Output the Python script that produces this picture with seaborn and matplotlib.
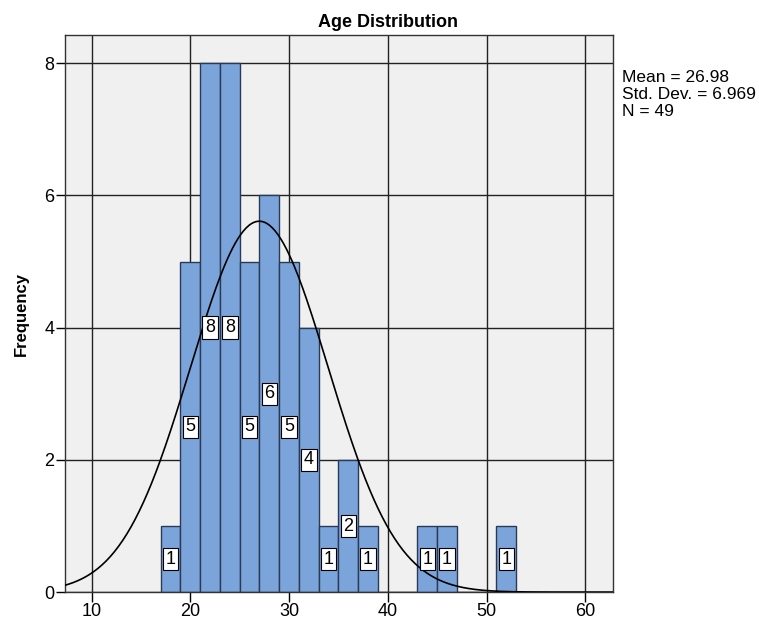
import matplotlib
matplotlib.use("Agg")
import matplotlib.pyplot as plt
import numpy as np
import pandas as pd
import seaborn as sns

# ---------------------------------------------------------------------------
# Data
# ---------------------------------------------------------------------------

bin_centers = [18, 20, 22, 24, 26, 28, 30, 32, 34, 36, 38, 44, 46, 52]
bin_counts  = [1, 5, 8, 8, 5, 6, 5, 4, 1, 2, 1, 1, 1, 1]
bin_width   = 2
bin_range   = (17, 53)

age_mean = 26.98
age_std  = 6.969
age_n    = 49

x_ticks = [10, 20, 30, 40, 50, 60]
y_ticks = [0, 2, 4, 6, 8]

# one row per respondent (bin centre repeated by its count)
df = pd.DataFrame({"age": np.repeat(bin_centers, bin_counts).astype(float)})

# ---------------------------------------------------------------------------
# Style
# ---------------------------------------------------------------------------

sns.set_style("ticks")
plt.rcParams["font.family"] = ["Liberation Sans", "DejaVu Sans"]
plt.rcParams.update({
    "text.color": "black", "axes.labelcolor": "black",
    "xtick.color": "black", "ytick.color": "black",
})

fig = plt.figure(figsize=(7.59, 6.22), dpi=100)
ax = fig.add_axes([0.0856, 0.048, 0.722, 0.895])
ax.set_facecolor("#F0F0F0")

sns.histplot(
    data=df, x="age", binwidth=bin_width, binrange=bin_range, ax=ax,
    color="#7BA4DB", edgecolor="#2A3A55", linewidth=1.0, alpha=1.0, zorder=2,
)

# normal curve from the reported stats
xs = np.linspace(7.3, 62.8, 400)
pdf = np.exp(-0.5 * ((xs - age_mean) / age_std) ** 2) / (age_std * np.sqrt(2 * np.pi))
sns.lineplot(x=xs, y=age_n * bin_width * pdf, ax=ax, color="black", linewidth=1.2, zorder=4)

# boxed count labels in the middle of each bar
for c, n in zip(bin_centers, bin_counts):
    ax.text(c, n / 2, str(n), ha="center", va="center", fontsize=13, zorder=5,
            bbox=dict(boxstyle="square,pad=0.15", facecolor="white",
                      edgecolor="black", linewidth=0.8))

ax.set_xlim(7.3, 62.8)
ax.set_ylim(0, 8.42)
ax.set_xticks(x_ticks)
ax.set_yticks(y_ticks)
ax.tick_params(axis="x", labelsize=13, length=7, width=1, pad=1)
ax.tick_params(axis="y", labelsize=13, length=6.5, width=1, pad=1)
ax.grid(True, color="#222222", linewidth=1.0, zorder=0)
ax.set_axisbelow(True)
for sp in ax.spines.values():
    sp.set_visible(True)
    sp.set_color("#333333")
    sp.set_linewidth(1.0)

ax.set_xlabel("")
ax.set_ylabel("Frequency", fontsize=12, fontweight="bold")
ax.yaxis.set_label_coords(-0.066, 0.5)
ax.set_title("Age Distribution", fontsize=13, fontweight="bold", pad=6, x=0.59)

fig.text(0.8195, 0.888,
         f"Mean = {age_mean:.2f}\nStd. Dev. = {age_std:.3f}\nN = {age_n}",
         ha="left", va="top", fontsize=12.5, linespacing=1.2)

fig.savefig("out.png", dpi=100)
